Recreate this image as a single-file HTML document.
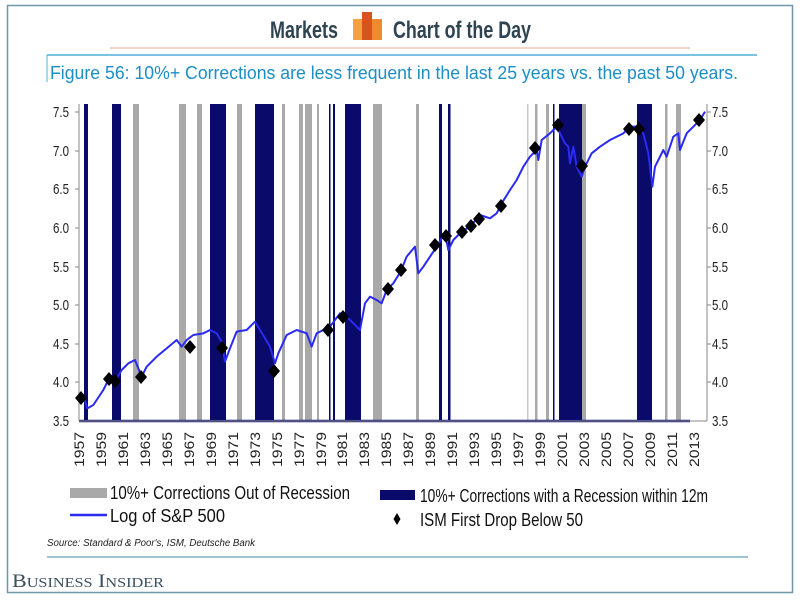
<!DOCTYPE html>
<html><head><meta charset="utf-8"><style>
body{margin:0;background:#fff;}
svg{display:block;}
</style></head><body>
<svg width="800" height="600" viewBox="0 0 800 600" xmlns="http://www.w3.org/2000/svg" font-family="Liberation Sans, sans-serif">
<rect x="0" y="0" width="800" height="600" fill="#fff"/>
<rect x="7.5" y="5.5" width="785" height="587" fill="none" stroke="#6f97a8" stroke-width="1.5"/>
<!-- header -->
<text x="270" y="38" font-size="24" font-weight="bold" fill="#2f4452" textLength="68" lengthAdjust="spacingAndGlyphs">Markets</text>
<rect x="353" y="19" width="10" height="21" fill="#f2a23e"/>
<rect x="362" y="12" width="10" height="28" fill="#d9531f"/>
<rect x="372" y="19" width="10" height="21" fill="#ef8a2e"/>
<text x="393" y="38" font-size="24" font-weight="bold" fill="#2f4452" textLength="138" lengthAdjust="spacingAndGlyphs">Chart of the Day</text>
<line x1="110" y1="48" x2="690" y2="48" stroke="#e8a89a" stroke-width="1"/>
<line x1="47" y1="55" x2="757" y2="55" stroke="#4fb0d8" stroke-width="1.5"/>
<line x1="47" y1="55" x2="47" y2="82" stroke="#4fb0d8" stroke-width="1"/>
<text x="50" y="79" font-size="18" fill="#1b8ec6" textLength="688" lengthAdjust="spacingAndGlyphs">Figure 56: 10%+ Corrections are less frequent in the last 25 years vs. the past 50 years.</text>
<!-- bars -->
<g fill="#a9a9a9">
<rect x="133" y="104" width="6" height="317"/>
<rect x="179" y="104" width="7" height="317"/>
<rect x="197" y="104" width="5" height="317"/>
<rect x="237" y="104" width="5" height="317"/>
<rect x="282" y="104" width="3" height="317"/>
<rect x="299" y="104" width="4" height="317"/>
<rect x="305" y="104" width="7" height="317"/>
<rect x="317" y="104" width="2" height="317"/>
<rect x="373" y="104" width="9" height="317"/>
<rect x="416" y="104" width="3" height="317"/>
<rect x="527" y="104" width="1.5" height="317" fill="#c8c8c8"/>
<rect x="535" y="104" width="2.5" height="317"/>
<rect x="546" y="104" width="3" height="317"/>
<rect x="582" y="104" width="4" height="317"/>
<rect x="665" y="104" width="2.5" height="317"/>
<rect x="676" y="104" width="5" height="317"/>
</g>
<g fill="#0a0a6b">
<rect x="84" y="104" width="4" height="317"/>
<rect x="112" y="104" width="9" height="317"/>
<rect x="210" y="104" width="16" height="317"/>
<rect x="255" y="104" width="19" height="317"/>
<rect x="329" y="104" width="1.5" height="317"/>
<rect x="333" y="104" width="2" height="317"/>
<rect x="345" y="104" width="16" height="317"/>
<rect x="439" y="104" width="3" height="317"/>
<rect x="448" y="104" width="2.5" height="317"/>
<rect x="553" y="104" width="1.5" height="317"/>
<rect x="559" y="104" width="23" height="317"/>
<rect x="637" y="104" width="15" height="317"/>
</g>
<line x1="79" y1="421" x2="690" y2="421" stroke="#1a1a7a" stroke-width="2.5"/>
<!-- axes -->
<g stroke="#888" stroke-width="1">
<line x1="79" y1="104" x2="79" y2="421"/>
<line x1="707" y1="104" x2="707" y2="421"/>
<line x1="79" y1="421" x2="707" y2="421"/>
</g>
<g font-size="15" fill="#222">
<text x="53" y="117" textLength="16" lengthAdjust="spacingAndGlyphs">7.5</text>
<text x="53" y="156" textLength="16" lengthAdjust="spacingAndGlyphs">7.0</text>
<text x="53" y="194" textLength="16" lengthAdjust="spacingAndGlyphs">6.5</text>
<text x="53" y="233" textLength="16" lengthAdjust="spacingAndGlyphs">6.0</text>
<text x="53" y="272" textLength="16" lengthAdjust="spacingAndGlyphs">5.5</text>
<text x="53" y="310" textLength="16" lengthAdjust="spacingAndGlyphs">5.0</text>
<text x="53" y="349" textLength="16" lengthAdjust="spacingAndGlyphs">4.5</text>
<text x="53" y="387" textLength="16" lengthAdjust="spacingAndGlyphs">4.0</text>
<text x="53" y="426" textLength="16" lengthAdjust="spacingAndGlyphs">3.5</text>
<text x="712" y="117" textLength="16" lengthAdjust="spacingAndGlyphs">7.5</text>
<text x="712" y="156" textLength="16" lengthAdjust="spacingAndGlyphs">7.0</text>
<text x="712" y="194" textLength="16" lengthAdjust="spacingAndGlyphs">6.5</text>
<text x="712" y="233" textLength="16" lengthAdjust="spacingAndGlyphs">6.0</text>
<text x="712" y="272" textLength="16" lengthAdjust="spacingAndGlyphs">5.5</text>
<text x="712" y="310" textLength="16" lengthAdjust="spacingAndGlyphs">5.0</text>
<text x="712" y="349" textLength="16" lengthAdjust="spacingAndGlyphs">4.5</text>
<text x="712" y="387" textLength="16" lengthAdjust="spacingAndGlyphs">4.0</text>
<text x="712" y="426" textLength="16" lengthAdjust="spacingAndGlyphs">3.5</text>
</g>
<g stroke="#888">
<line x1="75" y1="112" x2="79" y2="112"/><line x1="75" y1="151" x2="79" y2="151"/><line x1="75" y1="189" x2="79" y2="189"/><line x1="75" y1="228" x2="79" y2="228"/><line x1="75" y1="267" x2="79" y2="267"/><line x1="75" y1="305" x2="79" y2="305"/><line x1="75" y1="344" x2="79" y2="344"/><line x1="75" y1="382" x2="79" y2="382"/>
<line x1="707" y1="112" x2="711" y2="112"/><line x1="707" y1="151" x2="711" y2="151"/><line x1="707" y1="189" x2="711" y2="189"/><line x1="707" y1="228" x2="711" y2="228"/><line x1="707" y1="267" x2="711" y2="267"/><line x1="707" y1="305" x2="711" y2="305"/><line x1="707" y1="344" x2="711" y2="344"/><line x1="707" y1="382" x2="711" y2="382"/>
</g>
<!-- x labels -->
<g font-size="14" fill="#222" text-anchor="end">
<text transform="translate(84,432) rotate(-90)" textLength="35" lengthAdjust="spacingAndGlyphs">1957</text>
<text transform="translate(106,432) rotate(-90)" textLength="35" lengthAdjust="spacingAndGlyphs">1959</text>
<text transform="translate(128,432) rotate(-90)" textLength="35" lengthAdjust="spacingAndGlyphs">1961</text>
<text transform="translate(150,432) rotate(-90)" textLength="35" lengthAdjust="spacingAndGlyphs">1963</text>
<text transform="translate(172,432) rotate(-90)" textLength="35" lengthAdjust="spacingAndGlyphs">1965</text>
<text transform="translate(194,432) rotate(-90)" textLength="35" lengthAdjust="spacingAndGlyphs">1967</text>
<text transform="translate(216,432) rotate(-90)" textLength="35" lengthAdjust="spacingAndGlyphs">1969</text>
<text transform="translate(238,432) rotate(-90)" textLength="35" lengthAdjust="spacingAndGlyphs">1971</text>
<text transform="translate(260,432) rotate(-90)" textLength="35" lengthAdjust="spacingAndGlyphs">1973</text>
<text transform="translate(282,432) rotate(-90)" textLength="35" lengthAdjust="spacingAndGlyphs">1975</text>
<text transform="translate(304,432) rotate(-90)" textLength="35" lengthAdjust="spacingAndGlyphs">1977</text>
<text transform="translate(326,432) rotate(-90)" textLength="35" lengthAdjust="spacingAndGlyphs">1979</text>
<text transform="translate(347,432) rotate(-90)" textLength="35" lengthAdjust="spacingAndGlyphs">1981</text>
<text transform="translate(369,432) rotate(-90)" textLength="35" lengthAdjust="spacingAndGlyphs">1983</text>
<text transform="translate(391,432) rotate(-90)" textLength="35" lengthAdjust="spacingAndGlyphs">1985</text>
<text transform="translate(413,432) rotate(-90)" textLength="35" lengthAdjust="spacingAndGlyphs">1987</text>
<text transform="translate(435,432) rotate(-90)" textLength="35" lengthAdjust="spacingAndGlyphs">1989</text>
<text transform="translate(457,432) rotate(-90)" textLength="35" lengthAdjust="spacingAndGlyphs">1991</text>
<text transform="translate(479,432) rotate(-90)" textLength="35" lengthAdjust="spacingAndGlyphs">1993</text>
<text transform="translate(501,432) rotate(-90)" textLength="35" lengthAdjust="spacingAndGlyphs">1995</text>
<text transform="translate(523,432) rotate(-90)" textLength="35" lengthAdjust="spacingAndGlyphs">1997</text>
<text transform="translate(545,432) rotate(-90)" textLength="35" lengthAdjust="spacingAndGlyphs">1999</text>
<text transform="translate(567,432) rotate(-90)" textLength="35" lengthAdjust="spacingAndGlyphs">2001</text>
<text transform="translate(589,432) rotate(-90)" textLength="35" lengthAdjust="spacingAndGlyphs">2003</text>
<text transform="translate(611,432) rotate(-90)" textLength="35" lengthAdjust="spacingAndGlyphs">2005</text>
<text transform="translate(633,432) rotate(-90)" textLength="35" lengthAdjust="spacingAndGlyphs">2007</text>
<text transform="translate(655,432) rotate(-90)" textLength="35" lengthAdjust="spacingAndGlyphs">2009</text>
<text transform="translate(677,432) rotate(-90)" textLength="35" lengthAdjust="spacingAndGlyphs">2011</text>
<text transform="translate(699,432) rotate(-90)" textLength="35" lengthAdjust="spacingAndGlyphs">2013</text>
</g>
<!-- line -->
<g transform="translate(40,100) scale(0.33333)">
<polyline fill="none" stroke="#2a2af0" stroke-width="2" vector-effect="non-scaling-stroke" stroke-linejoin="round" points="118,880 130,885 142,925 160,915 190,870 205,840 230,835 245,810 265,790 285,780 295,805 305,830 320,800 350,770 380,745 410,720 425,740 440,720 460,705 490,700 510,690 530,700 545,725 555,785 570,745 590,695 620,690 645,665 660,690 690,740 705,790 715,760 740,705 770,690 800,700 815,740 830,700 850,690 870,680 900,640 920,650 940,670 960,690 975,610 990,590 1010,600 1025,610 1040,570 1060,550 1085,510"/>
</g>
<g transform="translate(400,100) scale(0.33333)">
<polyline fill="none" stroke="#2a2af0" stroke-width="2" vector-effect="non-scaling-stroke" stroke-linejoin="round" points="4,510 20,470 45,440 55,520 70,500 90,470 110,440 125,415 135,400 145,450 160,420 185,395 210,380 240,345 270,355 290,340 305,310 330,270 350,240 370,200 390,170 410,150 415,180 425,120 450,100 470,80 485,110 495,130 505,140 510,190 520,140 530,200 545,230 555,200 575,160 600,140 630,120 670,100 690,80 710,80 730,100 745,160 757,260 765,200 790,150 800,170 820,110 835,100 840,150 860,100 880,80 900,60 915,35"/>
</g>
<!-- diamonds -->
<g fill="#000">
<path d="M81 391l6 7-6 7-6-7z"/>
<path d="M109 372l6 7-6 7-6-7z"/>
<path d="M115 374l6 7-6 7-6-7z"/>
<path d="M141 370l6 7-6 7-6-7z"/>
<path d="M190 340l6 7-6 7-6-7z"/>
<path d="M222 341l6 7-6 7-6-7z"/>
<path d="M274 364l6 7-6 7-6-7z"/>
<path d="M328 323l6 7-6 7-6-7z"/>
<path d="M343 310l6 7-6 7-6-7z"/>
<path d="M388 282l6 7-6 7-6-7z"/>
<path d="M401 263l6 7-6 7-6-7z"/>
<path d="M435 238l6 7-6 7-6-7z"/>
<path d="M446 229l6 7-6 7-6-7z"/>
<path d="M462 225l6 7-6 7-6-7z"/>
<path d="M471 219l6 7-6 7-6-7z"/>
<path d="M479 212l6 7-6 7-6-7z"/>
<path d="M501 199l6 7-6 7-6-7z"/>
<path d="M535 141l6 7-6 7-6-7z"/>
<path d="M558 118l6 7-6 7-6-7z"/>
<path d="M582 159l6 7-6 7-6-7z"/>
<path d="M629 122l6 7-6 7-6-7z"/>
<path d="M639 122l6 7-6 7-6-7z"/>
<path d="M699 113l6 7-6 7-6-7z"/>
</g>
<!-- legend -->
<rect x="70" y="488" width="37" height="10" fill="#a9a9a9"/>
<text x="110" y="499" font-size="18" fill="#111" textLength="240" lengthAdjust="spacingAndGlyphs">10%+ Corrections Out of Recession</text>
<rect x="380" y="490" width="35" height="10" fill="#0a0a6b"/>
<text x="420" y="502" font-size="18" fill="#111" textLength="288" lengthAdjust="spacingAndGlyphs">10%+ Corrections with a Recession within 12m</text>
<line x1="70" y1="515" x2="107" y2="515" stroke="#2a2af0" stroke-width="2.5"/>
<text x="110" y="522" font-size="18" fill="#111" textLength="115" lengthAdjust="spacingAndGlyphs">Log of S&amp;P 500</text>
<path d="M397 513l3.5 6-3.5 6-3.5-6z" fill="#000"/>
<text x="420" y="526" font-size="18" fill="#111" textLength="163" lengthAdjust="spacingAndGlyphs">ISM First Drop Below 50</text>
<text x="47" y="546" font-size="10" font-style="italic" fill="#222" textLength="208" lengthAdjust="spacingAndGlyphs">Source: Standard &amp; Poor's, ISM, Deutsche Bank</text>
<line x1="47" y1="557" x2="748" y2="557" stroke="#7fb1bf" stroke-width="1.5"/>
<text x="12" y="587" font-size="19" fill="#3a4f5f" font-family="Liberation Serif, serif" textLength="152" lengthAdjust="spacingAndGlyphs">B<tspan font-size="14">USINESS</tspan> I<tspan font-size="14">NSIDER</tspan></text>
</svg>
</body></html>
